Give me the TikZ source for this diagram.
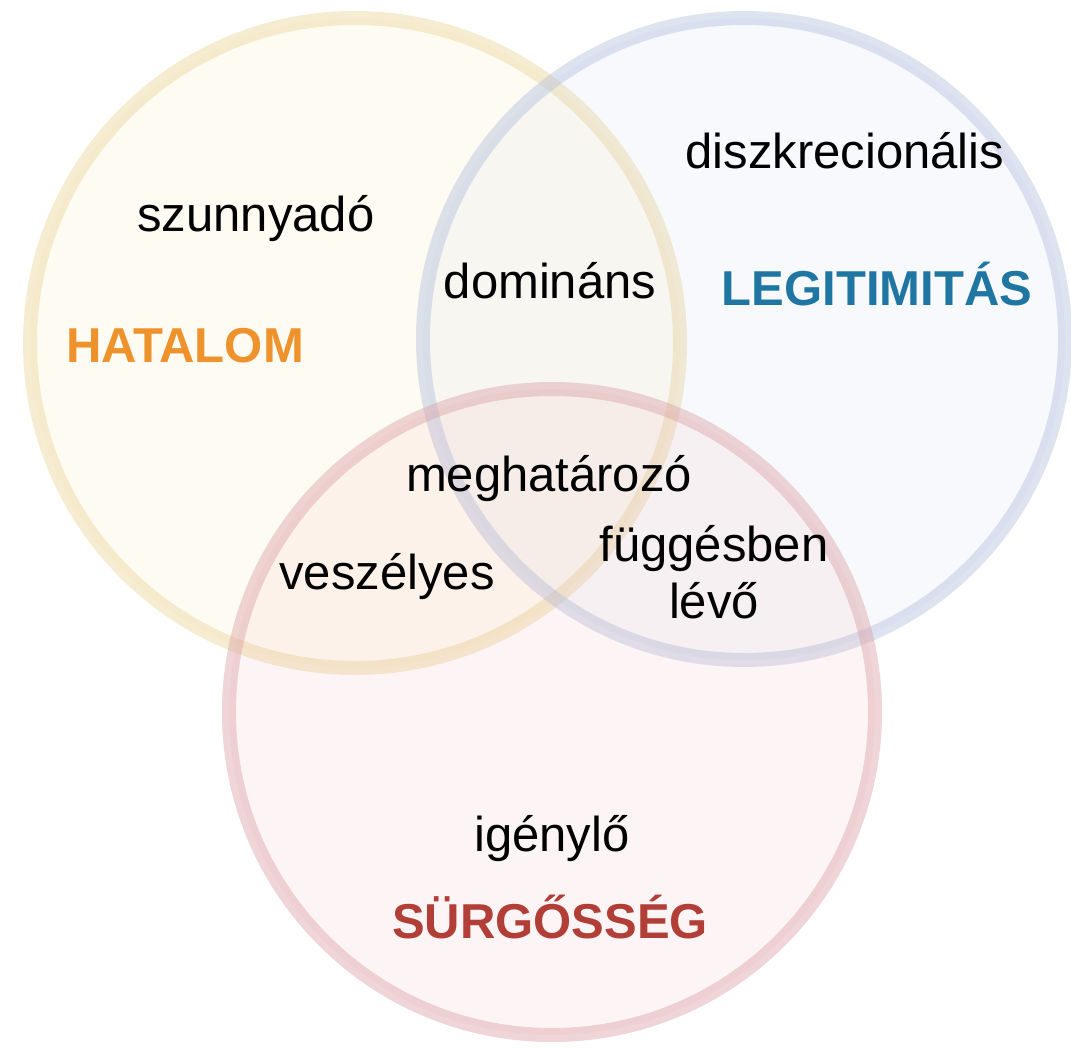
\documentclass[tikz,border=0pt]{standalone}
\usepackage{fontspec}
\setmainfont{Liberation Sans}
\definecolor{ringY}{HTML}{EBD79C}
\definecolor{ringB}{HTML}{B4C1DD}
\definecolor{ringR}{HTML}{DCA3A8}
\definecolor{fillY}{HTML}{F7DC8E}
\definecolor{fillB}{HTML}{BCCBE8}
\definecolor{fillR}{HTML}{F4A3A3}
\definecolor{txtY}{HTML}{EE922C}
\definecolor{txtB}{HTML}{1F76A3}
\definecolor{txtR}{HTML}{B23E38}
\tikzset{
  venn/.style={circle, inner sep=0pt, line width=14pt, draw opacity=0.45, fill opacity=0.1},
  lbl/.style={font=\fontsize{49}{52}\selectfont, text=black, anchor=base, inner sep=0pt, align=center},
  title/.style={font=\fontsize{49}{52}\selectfont\bfseries, anchor=base, inner sep=0pt}
}
\begin{document}
\begin{tikzpicture}[x=1pt, y=-1pt]
\useasboundingbox[fill=white] (0,0) rectangle (1071,1047);
\node[venn, draw=ringY, fill=fillY, minimum size=650pt] (hat) at (355,343) {};
\node[venn, draw=ringB, fill=fillB, minimum size=642pt] (leg) at (744,339) {};
\node[venn, draw=ringR, fill=fillR, minimum size=646pt] (sur) at (552,712) {};
\node[lbl] (szu) at (256,231) {szunnyadó};
\node[title, text=txtY] (hatt) at (185,362) {HATALOM};
\node[lbl] (dom) at (550,298) {domináns};
\node[lbl] (disz) at (845,168) {diszkrecionális};
\node[title, text=txtB] (legt) at (877,305) {LEGITIMITÁS};
\node[lbl] (megh) at (549,491) {meghatározó};
\node[lbl] (vesz) at (387,589) {veszélyes};
\node[lbl] (fugg) at (714,561) {függésben};
\node[lbl] (levo) at (714,618) {lévő};
\node[lbl] (igeny) at (552,851) {igénylő};
\node[title, text=txtR] (surt) at (550,938) {SÜRGŐSSÉG};
\end{tikzpicture}
\end{document}
